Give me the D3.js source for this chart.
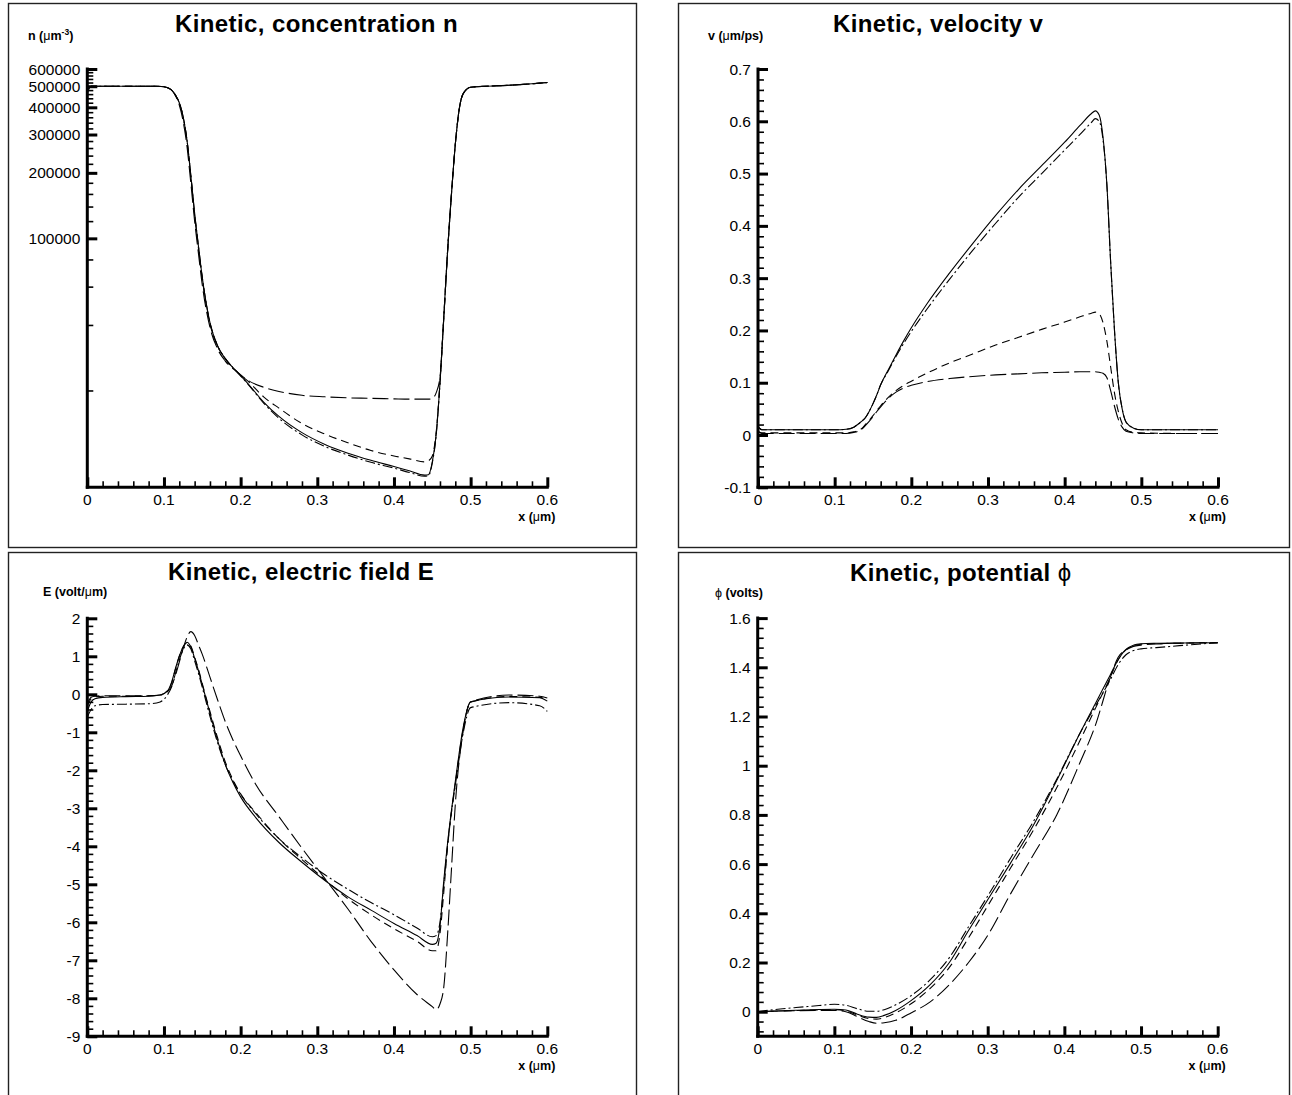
<!DOCTYPE html>
<html><head><meta charset="utf-8">
<script src="https://cdn.jsdelivr.net/npm/d3@7"></script>
<style>
html,body{margin:0;padding:0;background:#fff;}
svg{display:block;font-family:"Liberation Sans",Arial,sans-serif;}
</style></head>
<body>
<svg id="chart" width="1292" height="1095"></svg>
<script>
// ---------------- DATA ----------------
const seriesNames = ["solid", "dashdot", "shortdash", "longdash"];

// Panel 1: concentration n (log scale)
const nX = [0,0.005,0.02,0.05,0.09,0.1,0.11,0.115,0.12,0.125,0.13,0.135,0.14,0.145,0.15,0.16,0.17,0.18,0.195,0.21,0.23,0.25,0.28,0.31,0.34,0.37,0.4,0.42,0.44,0.445,0.45,0.455,0.46,0.465,0.47,0.475,0.48,0.485,0.49,0.5,0.52,0.55,0.6];
const nSolid = [490000,500000,500000,500000,500000,497000,480000,455000,420000,362000,283000,195000,130000,92000,66000,41000,32000,28000,24400,21400,17700,15200,12800,11300,10300,9550,8950,8550,8170,8200,9400,12500,21600,43600,88000,160000,270000,390000,460000,495000,500000,505000,520000];
const nDashDot = [485000,500000,500000,500000,500000,497000,480000,455000,420000,362000,283000,195000,130000,92000,66000,41000,32000,28000,24400,21300,17500,14900,12500,11050,10100,9350,8800,8400,8080,8120,9300,12400,21600,43600,88000,160000,270000,390000,460000,495000,500000,505000,520000];
const nShortDash = [480000,500000,500000,500000,500000,497000,480000,455000,420000,362000,283000,195000,128000,90000,65000,40500,32000,28000,24400,22000,18700,16600,14100,12600,11500,10600,10000,9700,9400,9500,10000,12800,21600,43600,88000,160000,270000,390000,460000,495000,500000,505000,520000];
const nLongDash = [465000,500000,500000,500000,500000,497000,480000,452000,410000,345000,265000,180000,120000,85000,61000,39000,31000,27300,24400,22200,20700,19800,19000,18700,18500,18400,18300,18250,18250,18250,18400,19500,23000,43000,88000,160000,270000,390000,460000,495000,500000,505000,520000];
const nTicks = [100000,200000,300000,400000,500000,600000];

// Panel 2: velocity v
const vX = [0,0.005,0.05,0.1,0.115,0.125,0.13,0.135,0.14,0.145,0.15,0.155,0.16,0.17,0.18,0.19,0.2,0.22,0.25,0.28,0.31,0.34,0.37,0.4,0.42,0.435,0.44,0.445,0.45,0.455,0.46,0.465,0.47,0.475,0.48,0.49,0.5,0.55,0.6];
const vSolid = [0.016,0.01,0.01,0.01,0.011,0.015,0.02,0.026,0.033,0.045,0.06,0.077,0.096,0.125,0.153,0.18,0.205,0.25,0.31,0.366,0.42,0.47,0.515,0.56,0.592,0.615,0.62,0.612,0.57,0.48,0.33,0.2,0.1,0.05,0.025,0.013,0.01,0.01,0.01];
const vDashDot = [0.016,0.01,0.01,0.01,0.011,0.015,0.02,0.026,0.033,0.045,0.06,0.077,0.096,0.123,0.15,0.175,0.198,0.24,0.298,0.353,0.405,0.455,0.5,0.545,0.575,0.598,0.605,0.6,0.565,0.48,0.33,0.2,0.1,0.05,0.025,0.013,0.01,0.01,0.01];
const vShortDash = [0.008,0.004,0.004,0.004,0.004,0.006,0.008,0.012,0.02,0.028,0.037,0.047,0.056,0.072,0.085,0.095,0.103,0.118,0.138,0.155,0.172,0.187,0.202,0.216,0.226,0.233,0.235,0.232,0.215,0.18,0.13,0.08,0.045,0.022,0.01,0.005,0.004,0.003,0.003];
const vLongDash = [0.006,0.003,0.003,0.003,0.003,0.005,0.007,0.011,0.018,0.026,0.035,0.045,0.054,0.07,0.082,0.09,0.095,0.102,0.108,0.112,0.115,0.117,0.119,0.12,0.121,0.121,0.121,0.12,0.118,0.11,0.085,0.055,0.03,0.015,0.007,0.004,0.003,0.003,0.003];
const vTicks = [-0.1,0,0.1,0.2,0.3,0.4,0.5,0.6,0.7];

// Panel 3: electric field E
const eX = [0,0.005,0.01,0.02,0.05,0.08,0.095,0.105,0.11,0.115,0.12,0.125,0.13,0.135,0.14,0.145,0.15,0.16,0.17,0.18,0.19,0.2,0.22,0.25,0.28,0.31,0.34,0.37,0.4,0.43,0.45,0.455,0.46,0.465,0.47,0.475,0.48,0.49,0.5,0.55,0.59,0.6];
const eSolid = [-0.45,-0.2,-0.12,-0.08,-0.06,-0.05,-0.02,0.1,0.32,0.68,1.0,1.25,1.37,1.25,0.95,0.62,0.25,-0.5,-1.22,-1.85,-2.32,-2.7,-3.25,-3.9,-4.42,-4.9,-5.33,-5.68,-6.03,-6.35,-6.58,-6.55,-6.1,-4.9,-3.9,-3.05,-2.3,-0.9,-0.2,-0.07,-0.09,-0.18];
const eDashDot = [-0.6,-0.4,-0.3,-0.27,-0.26,-0.25,-0.2,0.0,0.2,0.55,0.9,1.18,1.3,1.2,0.88,0.55,0.18,-0.58,-1.28,-1.85,-2.28,-2.63,-3.15,-3.8,-4.3,-4.75,-5.13,-5.48,-5.8,-6.15,-6.38,-6.35,-6.0,-5.0,-3.95,-3.1,-2.4,-1.05,-0.35,-0.22,-0.3,-0.45];
const eShortDash = [-0.3,-0.12,-0.07,-0.05,-0.05,-0.04,-0.02,0.1,0.3,0.66,1.0,1.24,1.35,1.27,0.98,0.66,0.28,-0.45,-1.15,-1.78,-2.25,-2.62,-3.12,-3.8,-4.35,-4.88,-5.38,-5.8,-6.17,-6.5,-6.75,-6.75,-6.3,-5.2,-4.0,-3.1,-2.35,-0.95,-0.2,-0.06,-0.08,-0.15];
const eLongDash = [-0.25,-0.08,-0.05,-0.04,-0.04,-0.04,-0.02,0.08,0.22,0.5,0.85,1.2,1.5,1.65,1.55,1.3,1.05,0.45,-0.15,-0.72,-1.2,-1.62,-2.38,-3.22,-4.05,-4.85,-5.65,-6.5,-7.25,-7.9,-8.22,-8.3,-8.15,-7.7,-6.3,-4.6,-2.9,-1.0,-0.2,-0.02,-0.05,-0.1];
const eTicks = [-9,-8,-7,-6,-5,-4,-3,-2,-1,0,1,2];

// Panel 4: potential phi
const pX = [0,0.02,0.05,0.08,0.1,0.115,0.13,0.145,0.155,0.165,0.18,0.2,0.225,0.25,0.275,0.3,0.33,0.36,0.39,0.42,0.44,0.46,0.47,0.48,0.49,0.5,0.52,0.55,0.6];
const pSolid = [0,0.003,0.006,0.009,0.01,0.007,-0.01,-0.022,-0.023,-0.015,0.005,0.045,0.11,0.2,0.33,0.455,0.605,0.76,0.94,1.13,1.25,1.37,1.43,1.472,1.49,1.496,1.498,1.499,1.5];
const pDashDot = [0,0.008,0.017,0.025,0.03,0.026,0.012,0.002,0.002,0.008,0.028,0.065,0.13,0.22,0.345,0.47,0.625,0.775,0.945,1.13,1.24,1.35,1.41,1.45,1.468,1.475,1.48,1.488,1.5];
const pShortDash = [0,0.002,0.005,0.007,0.008,0.004,-0.014,-0.028,-0.03,-0.024,-0.005,0.032,0.095,0.18,0.3,0.43,0.585,0.74,0.91,1.1,1.23,1.36,1.43,1.47,1.488,1.494,1.496,1.498,1.5];
const pLongDash = [0,0.002,0.004,0.005,0.005,0.0,-0.02,-0.04,-0.047,-0.045,-0.035,-0.005,0.04,0.11,0.2,0.31,0.48,0.64,0.8,1.01,1.16,1.36,1.44,1.47,1.485,1.49,1.495,1.498,1.5];
const pTicks = [0,0.2,0.4,0.6,0.8,1,1.2,1.4,1.6];

const xTicks = [0,0.1,0.2,0.3,0.4,0.5,0.6];
const xTickLabels = ["0","0.1","0.2","0.3","0.4","0.5","0.6"];

// ---------------- LAYOUT ----------------
const dashStyles = {solid: null, dashdot: "10,3,2,3", shortdash: "8,5", longdash: "16,5"};

const panels = [
  {frame:[8.5,3.5,628,544], x:[87.3,547.3], y:[487.3,69], log:true, domain:[7180,600000],
   xs:nX, series:[nSolid,nDashDot,nShortDash,nLongDash], ticks:nTicks,
   minor:d3.range(20000,600001,20000),
   title:"Kinetic, concentration n", titleX:175, titleY:32, ylab:"n", ylabX:28, ylabY:40},
  {frame:[678.5,3.5,611,544], x:[758,1218], y:[487.3,69], log:false, domain:[-0.1,0.7],
   xs:vX, series:[vSolid,vDashDot,vShortDash,vLongDash], ticks:vTicks,
   minor:d3.range(-0.1,0.7001,0.02),
   title:"Kinetic, velocity v", titleX:833, titleY:32, ylab:"v", ylabX:708, ylabY:40},
  {frame:[8.5,552.5,628,560], x:[87.3,547.3], y:[1036.3,618.3], log:false, domain:[-9,2],
   xs:eX, series:[eSolid,eDashDot,eShortDash,eLongDash], ticks:eTicks,
   minor:d3.range(-9,2.001,0.2),
   title:"Kinetic, electric field E", titleX:168, titleY:580, ylab:"E", ylabX:43, ylabY:596},
  {frame:[678.5,552.5,611,560], x:[757.7,1217.7], y:[1036.3,618.1], log:false, domain:[-0.1,1.6],
   xs:pX, series:[pSolid,pDashDot,pShortDash,pLongDash], ticks:pTicks,
   minor:d3.range(-0.08,1.6001,0.04),
   title:"Kinetic, potential ", titleX:850, titleY:581, ylab:"phi", ylabX:715, ylabY:597}
];

const fmtTick = d => String(+d.toFixed(3));   // plain hyphen-minus like the original

const svg = d3.select("#chart");
svg.append("rect").attr("width",1292).attr("height",1095).attr("fill","#fff");

panels.forEach((p, pi) => {
  const g = svg.append("g");
  g.append("rect").attr("x",p.frame[0]).attr("y",p.frame[1]).attr("width",p.frame[2]).attr("height",p.frame[3])
    .attr("fill","none").attr("stroke","#222").attr("stroke-width",1.4);

  const xs = d3.scaleLinear().domain([0,0.6]).range(p.x);
  const ys = (p.log ? d3.scaleLog() : d3.scaleLinear()).domain(p.domain).range(p.y);

  // minor ticks
  const xMinor = d3.range(0,0.6001,0.02).filter(v => Math.abs(v*10 - Math.round(v*10)) > 1e-6);
  g.append("g").attr("transform",`translate(0,${p.y[0]})`)
    .call(d3.axisTop(xs).tickValues(xMinor).tickSize(6).tickFormat(""))
    .call(s=>s.select(".domain").remove())
    .call(s=>s.selectAll("line").attr("stroke","#000").attr("stroke-width",1.6));
  const yMinorVals = p.minor.filter(v => !p.ticks.some(t => Math.abs(t-v) < 1e-6) && v>=p.domain[0]-1e-9 && v<=p.domain[1]+1e-9);
  g.append("g").attr("transform",`translate(${p.x[0]},0)`)
    .call(d3.axisRight(ys).tickValues(yMinorVals).tickSize(6).tickFormat(""))
    .call(s=>s.select(".domain").remove())
    .call(s=>s.selectAll("line").attr("stroke","#000").attr("stroke-width",1.6));

  // major ticks
  g.append("g").attr("transform",`translate(0,${p.y[0]})`)
    .call(d3.axisTop(xs).tickValues(xTicks).tickSize(10).tickFormat(""))
    .call(s=>s.select(".domain").remove())
    .call(s=>s.selectAll("line").attr("stroke","#000").attr("stroke-width",3));
  g.append("g").attr("transform",`translate(${p.x[0]},0)`)
    .call(d3.axisRight(ys).tickValues(p.ticks).tickSize(10).tickFormat(""))
    .call(s=>s.select(".domain").remove())
    .call(s=>s.selectAll("line").attr("stroke","#000").attr("stroke-width",3));

  // axis lines
  g.append("line").attr("x1",p.x[0]-1.5).attr("x2",p.x[1]+1.5).attr("y1",p.y[0]).attr("y2",p.y[0])
    .attr("stroke","#000").attr("stroke-width",3);
  g.append("line").attr("x1",p.x[0]).attr("x2",p.x[0]).attr("y1",p.y[0]+1.5).attr("y2",p.y[1]-1.5)
    .attr("stroke","#000").attr("stroke-width",3);

  // tick labels
  g.selectAll(".xl").data(xTicks).enter().append("text")
    .attr("x",d=>xs(d)).attr("y",p.y[0]+18).attr("text-anchor","middle")
    .attr("font-size",15.5).attr("fill","#000").text((d,i)=>xTickLabels[i]);
  g.selectAll(".yl").data(p.ticks).enter().append("text")
    .attr("x",p.x[0]-7).attr("y",d=>ys(d)).attr("dy","0.36em").attr("text-anchor","end")
    .attr("font-size",15.5).attr("fill","#000").text(d=>fmtTick(d));

  // x label
  const xl = g.append("text").attr("x",p.x[1]+8).attr("y",p.y[0]+34).attr("text-anchor","end")
    .attr("font-size",12.5).attr("font-weight","bold").attr("fill","#000");
  xl.append("tspan").text("x (");
  xl.append("tspan").attr("font-weight","normal").text("\u03BC");
  xl.append("tspan").text("m)");

  // y label
  const yl = g.append("text").attr("x",p.ylabX).attr("y",p.ylabY)
    .attr("font-size",12.5).attr("font-weight","bold").attr("fill","#000");
  if (p.ylab === "n") {
    yl.append("tspan").text("n (");
    yl.append("tspan").attr("font-weight","normal").text("\u03BC");
    yl.append("tspan").text("m");
    yl.append("tspan").attr("font-size",8.5).attr("dy",-5).text("-3");
    yl.append("tspan").attr("dy",5).text(")");
  } else if (p.ylab === "v") {
    yl.append("tspan").text("v (");
    yl.append("tspan").attr("font-weight","normal").text("\u03BC");
    yl.append("tspan").text("m/ps)");
  } else if (p.ylab === "E") {
    yl.append("tspan").text("E (volt/");
    yl.append("tspan").attr("font-weight","normal").text("\u03BC");
    yl.append("tspan").text("m)");
  } else {
    yl.append("tspan").attr("font-weight","normal").text("\u03D5");
    yl.append("tspan").text(" (volts)");
  }

  // title
  const t = g.append("text").attr("x",p.titleX).attr("y",p.titleY)
    .attr("font-size",24).attr("letter-spacing",0.4).attr("font-weight","bold").attr("fill","#000");
  t.append("tspan").text(p.title);
  if (p.ylab === "phi") t.append("tspan").attr("font-weight","normal").text("\u03D5");

  // lines
  const clipId = "clip" + pi;
  g.append("clipPath").attr("id",clipId).append("rect")
    .attr("x",p.x[0]).attr("y",p.y[1]-2).attr("width",p.x[1]-p.x[0]+2).attr("height",p.y[0]-p.y[1]+2);
  const line = d3.line().x(d=>xs(d[0])).y(d=>ys(d[1])).curve(d3.curveMonotoneX);
  p.series.forEach((vals,i) => {
    const pts = p.xs.map((x,j)=>[x, vals[j]]);
    g.append("path").datum(pts).attr("d",line).attr("fill","none")
      .attr("stroke","#000").attr("stroke-width",1.1)
      .attr("clip-path",`url(#${clipId})`)
      .attr("stroke-dasharray",dashStyles[seriesNames[i]]);
  });
});
</script>
</body></html>
